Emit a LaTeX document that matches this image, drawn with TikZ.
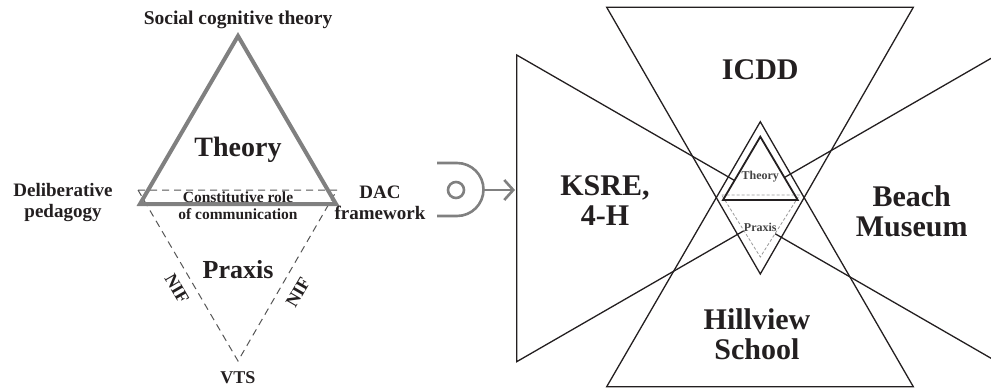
\documentclass[tikz,border=0pt]{standalone}
\usepackage{fontspec}
\setmainfont{Liberation Serif}
\usetikzlibrary{arrows.meta}

\definecolor{ink}{HTML}{231F20}
\definecolor{theorygrey}{HTML}{808080}
\definecolor{dashgrey}{HTML}{555555}
\definecolor{smallink}{HTML}{444444}
\definecolor{lightdash}{HTML}{9A9A9A}

\begin{document}
\begin{tikzpicture}[x=1pt,y=-1pt]

    % Picture frame (one unit = one pixel of the reference)
    \useasboundingbox (0,0) rectangle (991,388);
    \clip (0,0) rectangle (991,388);

    % Font sizes
    \def\fsbig{\fontsize{30}{30}\selectfont}
    \def\fsmid{\fontsize{19}{21}\selectfont}
    \def\fssmall{\fontsize{15.5}{17}\selectfont}

    % Styles of lines and labels
    \tikzstyle{txt} = [text=ink, inner sep=0pt, align=center];
    \tikzstyle{theoryline} = [draw=theorygrey, line width=4pt];
    \tikzstyle{praxisline} = [draw=dashgrey, line width=1pt, dash pattern=on 7pt off 5pt];
    \tikzstyle{partner} = [draw=ink, line width=1.3pt];
    \tikzstyle{socket} = [draw=theorygrey, line width=2.6pt];

    % Left: theory above, praxis below
    \draw[praxisline] (138,190) -- (337,190) -- (238,361) -- cycle;
    \draw[theoryline] (238,36) -- (336,204) -- (140,204) -- cycle;

    \node[txt, font=\bfseries\fontsize{19.5}{21}\selectfont] (sct) at (238,20) {Social cognitive theory};
    \node[txt, font=\bfseries\fontsize{28}{30}\selectfont] (theory) at (238,150) {Theory};
    \node[txt, font=\bfseries\fssmall] (ccr) at (238,206) {Constitutive role\\of communication};
    \node[txt, font=\bfseries\fontsize{26}{28}\selectfont] (praxis) at (238,270) {Praxis};
    \node[txt, font=\bfseries\fsmid] (delib) at (63,203) {Deliberative\\pedagogy};
    \node[txt, font=\bfseries\fsmid] (dac) at (380,203) {DAC\\framework};
    \node[txt, font=\bfseries\fontsize{18}{20}\selectfont, rotate=-60] (nifl) at (177,289) {NIF};
    \node[txt, font=\bfseries\fontsize{18}{20}\selectfont, rotate=60] (nifr) at (298,292) {NIF};
    \node[txt, font=\bfseries\fontsize{18}{20}\selectfont] (vts) at (238,378) {VTS};

    % Socket and arrow into the right picture
    \draw[socket] (437,163) -- (457,163) arc (90:-90:26.5pt) -- (437,216);
    \draw[socket] (456,190) circle (8pt);
    \coordinate (plug) at (483.5,190);
    \coordinate (entry) at (515,190);
    \draw[socket, -{Straight Barb[length=9pt,width=20pt]}] (plug) -- (entry);

    % Right: the four partner triangles
    \draw[partner] (606.7,7.3) -- (913.3,7.3) -- (760.3,274) -- cycle;
    \draw[partner] (606.7,386.7) -- (913.3,386.7) -- (760.3,121.7) -- cycle;
    \draw[partner] (516.7,55) -- (516.7,361.7) -- (782.8,208.3) -- cycle;
    \draw[partner] (1010,47.4) -- (1010,369.2) -- (731,208.3) -- cycle;

    % Small copy of the left picture in the middle
    \fill[white] (760.3,136.7) -- (797.7,200) -- (723,200) -- cycle;
    \fill[white] (721.7,195) -- (799.5,195) -- (760.3,257) -- cycle;
    \draw[draw=lightdash, line width=0.8pt, dash pattern=on 3pt off 2pt]
      (721.7,195) -- (799.5,195) -- (760.3,257) -- cycle;
    \draw[draw=ink, line width=1.8pt] (760.3,136.7) -- (797.7,200) -- (723,200) -- cycle;

    \node[txt, text=smallink, font=\bfseries\fontsize{12}{13}\selectfont] (stheory) at (760.3,177) {Theory};
    \node[txt, text=smallink, font=\bfseries\fontsize{12}{13}\selectfont] (spraxis) at (760.3,227) {Praxis};

    % Partner names
    \node[txt, font=\bfseries\fsbig] (icdd) at (760.3,70) {ICDD};
    \node[txt, font=\bfseries\fsbig] (ksre) at (605,201) {KSRE,\\4-H};
    \node[txt, font=\bfseries\fsbig] (beach) at (911.7,211) {Beach\\Museum};
    \node[txt, font=\bfseries\fsbig] (hill) at (757,334) {Hillview\\School};

\end{tikzpicture}
\end{document}
